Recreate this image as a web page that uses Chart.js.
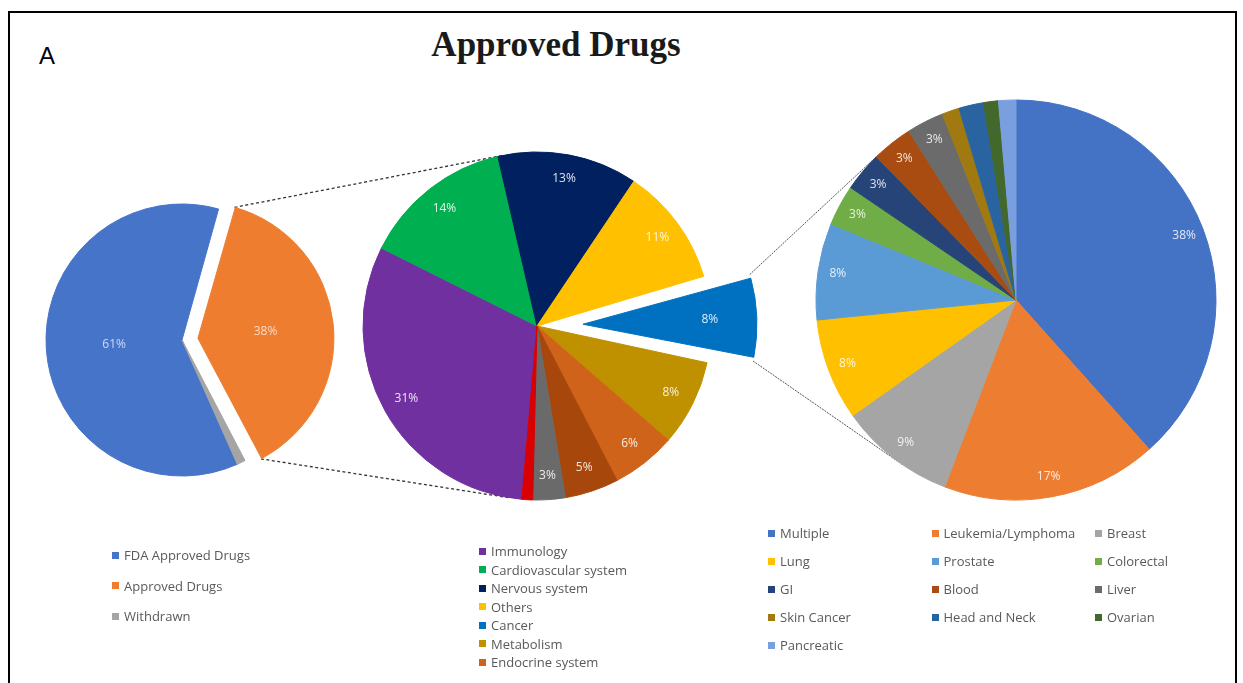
<!DOCTYPE html>
<html>
<head>
<meta charset="utf-8">
<title>Approved Drugs</title>
<script src="https://cdn.jsdelivr.net/npm/chart.js@4.4.1/dist/chart.umd.min.js"></script>
<style>
  html, body { margin: 0; padding: 0; background: #fff; overflow: hidden; }
  #page { position: relative; width: 1243px; height: 683px; overflow: hidden; font-family: "Open Sans", "Noto Sans", sans-serif; }
  #frame { position: absolute; left: 8px; top: 11px; width: 1229px; height: 720px; border: 2px solid #000; box-sizing: border-box; }
  #panel { position: absolute; left: 39px; top: 44px; font: 24px "Liberation Sans", Arial, sans-serif; line-height: 24px; color: #000; }
  #title { position: absolute; left: 356px; top: 28px; width: 400px; text-align: center; font: bold 35px "Liberation Serif", "Times New Roman", serif; line-height: 33px; color: #1a1a1a; }
  canvas { position: absolute; }
  #links { left: 0; top: 0; }
  #pieMain { left: 22px; top: 190px; }
  #pieArea { left: 307px; top: 96px; }
  #pieCancer { left: 806px; top: 90px; }
  .legend { position: absolute; display: grid; font-size: 13px; color: #595959; }
  .legend .item { display: flex; align-items: center; white-space: nowrap; }
  .legend .swatch { width: 7px; height: 7px; margin-right: 5px; flex: none; }
  #legendMain { left: 112px; top: 540px; grid-auto-rows: 30.5px; }
  #legendArea { left: 479px; top: 542px; grid-auto-rows: 18.5px; }
  #legendCancer { left: 768px; top: 519px; grid-template-columns: repeat(3, 163.5px); grid-auto-rows: 28px; }
</style>
</head>
<body>
<div id="page">
  <div id="frame"></div>
  <div id="panel">A</div>
  <div id="title">Approved Drugs</div>
  <canvas id="links" width="1243" height="683"></canvas>
  <canvas id="pieMain" width="320" height="300"></canvas>
  <canvas id="pieArea" width="460" height="460"></canvas>
  <canvas id="pieCancer" width="420" height="420"></canvas>
  <div class="legend" id="legendMain"></div>
  <div class="legend" id="legendArea"></div>
  <div class="legend" id="legendCancer"></div>
</div>
<script>
// share of FDA approvals
const mainLabels = ['FDA Approved Drugs', 'Approved Drugs', 'Withdrawn'];
const mainValues = [61, 38, 1];
const mainColors = ['#4674C8', '#EE7D2F', '#A5A5A5'];

// approved drugs by therapeutic area
const areaLabels = ['Immunology', 'Cardiovascular system', 'Nervous system', 'Others', 'Cancer',
  'Metabolism', 'Endocrine system', 'Respiratory system', 'Infectious disease', 'Dermatology'];
const areaValues = [31, 14, 13, 11, 8, 8, 6, 5, 3, 1];
const areaColors = ['#7030A0', '#00B050', '#002060', '#FFC000', '#0070C0',
  '#BF9000', '#D0631A', '#A8470C', '#6A6A6A', '#D80000'];
const areaLegendCount = 7;

// cancer drugs by indication
const cancerLabels = ['Multiple', 'Leukemia/Lymphoma', 'Breast', 'Lung', 'Prostate', 'Colorectal', 'GI',
  'Blood', 'Liver', 'Skin Cancer', 'Head and Neck', 'Ovarian', 'Pancreatic'];
const cancerValues = [38.4, 17.4, 9.4, 8.2, 7.8, 3.3, 3.2, 3.3, 3.0, 1.4, 2.0, 1.2, 1.4];
const cancerColors = ['#4472C4', '#ED7D31', '#A5A5A5', '#FFC000', '#5B9BD5', '#70AD47', '#264478',
  '#A84C12', '#6B6B6B', '#A07A10', '#2A64A0', '#43682B', '#7A9FDF'];

// Chart.js grows an offset slice by offset/4 * (1 - sin(angle)); take that back
// so the pulled-out slice keeps the same radius as the rest of the pie
const explodeFix = {
  id: 'explodeFix',
  afterDatasetUpdate(chart, args) {
    args.meta.data.forEach(arc => {
      const pull = (arc.options.offset || 0) / 4;
      if (!pull) return;
      const circ = arc.endAngle - arc.startAngle;
      arc.outerRadius -= pull * (1 - Math.sin(Math.min(Math.PI, circ)));
    });
  }
};

// percentage labels inside the slices
const sliceLabels = {
  id: 'sliceLabels',
  afterDatasetsDraw(chart, args, opts) {
    const ctx = chart.ctx;
    const ds = chart.data.datasets[0];
    const total = ds.data.reduce((a, b) => a + b, 0);
    ctx.save();
    ctx.font = '12px "Open Sans", "Noto Sans", sans-serif';
    ctx.fillStyle = opts.color;
    ctx.textAlign = 'center';
    ctx.textBaseline = 'middle';
    chart.getDatasetMeta(0).data.forEach((arc, i) => {
      const pct = ds.data[i] / total * 100;
      if (pct < 2.5) return;
      const mid = (arc.startAngle + arc.endAngle) / 2;
      const pull = (arc.options.offset || 0) / 4;
      const d = pull + (pull ? opts.pulledAt : opts.at) * ds.radius;
      ctx.fillText(Math.round(pct) + '%', arc.x + Math.cos(mid) * d, arc.y + Math.sin(mid) * d);
    });
    ctx.restore();
  }
};

function makePie(id, labels, values, colors, cfg) {
  return new Chart(document.getElementById(id), {
    type: 'pie',
    data: {
      labels: labels,
      datasets: [{
        data: values,
        backgroundColor: colors,
        borderColor: colors,
        borderWidth: 1,
        radius: cfg.radius,
        offset: labels.map((l, i) => i === cfg.pulled ? cfg.pull * 4 : 0)
      }]
    },
    options: {
      responsive: false,
      animation: false,
      events: [],
      rotation: cfg.rotation,
      layout: { padding: 0 },
      plugins: {
        legend: { display: false },
        tooltip: { enabled: false },
        sliceLabels: { at: cfg.labelAt, pulledAt: cfg.pulledLabelAt || cfg.labelAt, color: cfg.labelColor }
      }
    },
    plugins: [explodeFix, sliceLabels]
  });
}

const mainPie = makePie('pieMain', mainLabels, mainValues, mainColors,
  { radius: 136, rotation: 156, pulled: 1, pull: 16, labelAt: 0.5, labelColor: 'rgba(255,255,255,0.72)' });
const areaPie = makePie('pieArea', areaLabels, areaValues, areaColors,
  { radius: 174, rotation: 185, pulled: 4, pull: 46, labelAt: 0.86, pulledLabelAt: 0.73, labelColor: 'rgba(255,255,255,0.88)' });
const cancerPie = makePie('pieCancer', cancerLabels, cancerValues, cancerColors,
  { radius: 200, rotation: 0, pulled: -1, pull: 0, labelAt: 0.9, labelColor: 'rgba(255,255,255,0.85)' });

// page coordinates of a pie's centre and radius
function circleOf(chart) {
  const arc = chart.getDatasetMeta(0).data[0];
  return { x: chart.canvas.offsetLeft + arc.x, y: chart.canvas.offsetTop + arc.y, r: chart.data.datasets[0].radius };
}

// outer corners of a pulled-out slice, in page coordinates
function sliceCorners(chart, index) {
  const arc = chart.getDatasetMeta(0).data[index];
  const c = circleOf(chart);
  const pull = (arc.options.offset || 0) / 4;
  const mid = (arc.startAngle + arc.endAngle) / 2;
  const cx = c.x + Math.cos(mid) * pull;
  const cy = c.y + Math.sin(mid) * pull;
  return [arc.startAngle, arc.endAngle].map(a => ({ x: cx + Math.cos(a) * c.r, y: cy + Math.sin(a) * c.r }));
}

// tangent point on circle c seen from p; upper or lower one
function tangent(p, c, upper) {
  const dx = p.x - c.x, dy = p.y - c.y;
  const d = Math.hypot(dx, dy);
  const theta = Math.atan2(dy, dx);
  const alpha = Math.acos(c.r / d);
  const pts = [theta + alpha, theta - alpha].map(a => ({ x: c.x + Math.cos(a) * c.r, y: c.y + Math.sin(a) * c.r }));
  pts.sort((a, b) => a.y - b.y);
  return upper ? pts[0] : pts[1];
}

function drawLinks(ctx, from, toChart, style) {
  const c = circleOf(toChart);
  const ends = [tangent(from[0], c, true), tangent(from[1], c, false)];
  ctx.save();
  ctx.strokeStyle = style.color;
  ctx.lineWidth = style.width;
  ctx.setLineDash(style.dash);
  for (let i = 0; i < 2; i++) {
    ctx.beginPath();
    ctx.moveTo(from[i].x, from[i].y);
    ctx.lineTo(ends[i].x, ends[i].y);
    ctx.stroke();
  }
  ctx.restore();
}

const linkCtx = document.getElementById('links').getContext('2d');
drawLinks(linkCtx, sliceCorners(mainPie, 1), areaPie, { color: '#333', width: 1.3, dash: [3, 2.5] });
drawLinks(linkCtx, sliceCorners(areaPie, 4), cancerPie, { color: '#555', width: 1, dash: [2, 1] });

function buildLegend(id, labels, colors, count) {
  const box = document.getElementById(id);
  labels.slice(0, count).forEach((label, i) => {
    const item = document.createElement('div');
    item.className = 'item';
    const sw = document.createElement('span');
    sw.className = 'swatch';
    sw.style.background = colors[i];
    item.appendChild(sw);
    item.appendChild(document.createTextNode(label));
    box.appendChild(item);
  });
}

buildLegend('legendMain', mainLabels, mainColors, mainLabels.length);
buildLegend('legendArea', areaLabels, areaColors, areaLegendCount);
buildLegend('legendCancer', cancerLabels, cancerColors, cancerLabels.length);
</script>
</body>
</html>
